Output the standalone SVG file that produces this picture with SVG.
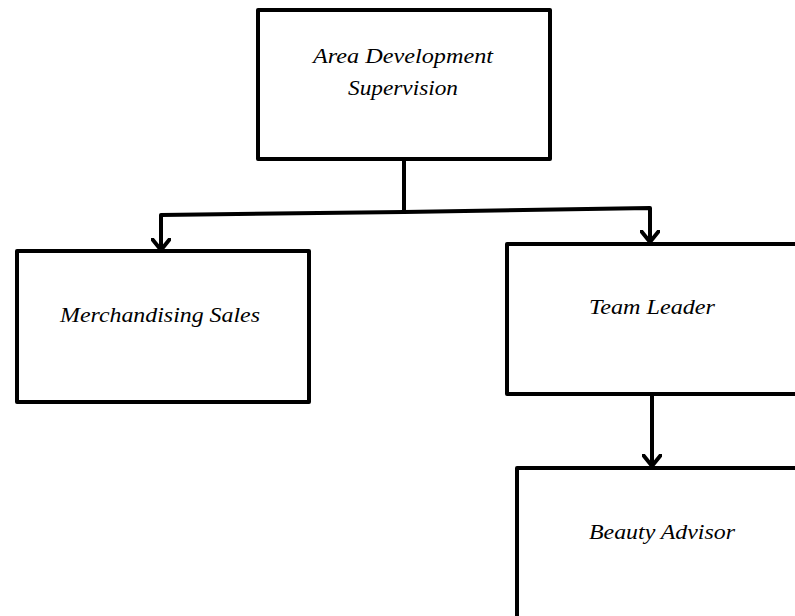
<svg xmlns="http://www.w3.org/2000/svg" width="795" height="616" viewBox="0 0 795 616">
<style>
.box{fill:#fff;stroke:#000;stroke-width:4;stroke-linejoin:round}
.lbl{font-family:"Liberation Serif","DejaVu Serif",serif;font-style:italic;font-size:22px;fill:#000;text-anchor:middle}
.conn{fill:none;stroke:#000;stroke-width:4;stroke-linejoin:round;stroke-linecap:round}
</style>
<defs>
<marker id="arr" viewBox="0 0 14 20" refX="12" refY="10" markerWidth="14" markerHeight="20" markerUnits="userSpaceOnUse" orient="auto">
<path d="M1.5,1.5 L12,10 L1.5,18.5" fill="none" stroke="#000" stroke-width="4" stroke-linecap="round" stroke-linejoin="round"/>
</marker>
</defs>
<rect width="795" height="616" fill="#fff"/>
<g id="connectors">
<path class="conn" d="M404,160 L404,212"/>
<path class="conn" d="M404,212 L161,215 L161,250" marker-end="url(#arr)"/>
<path class="conn" d="M404,212 L650,208 L650,242" marker-end="url(#arr)"/>
<path class="conn" d="M652,395 L652,466" marker-end="url(#arr)"/>
</g>
<g id="area-development-supervision">
<rect class="box" x="258" y="10" width="292" height="149"/>
<text class="lbl" x="403" y="63" textLength="180" lengthAdjust="spacingAndGlyphs">Area Development</text>
<text class="lbl" x="403" y="95" textLength="110" lengthAdjust="spacingAndGlyphs">Supervision</text>
</g>
<g id="merchandising-sales">
<rect class="box" x="17" y="251" width="292" height="151"/>
<text class="lbl" x="160" y="322" textLength="200" lengthAdjust="spacingAndGlyphs">Merchandising Sales</text>
</g>
<g id="team-leader">
<rect class="box" x="507" y="244" width="320" height="150"/>
<text class="lbl" x="652" y="314" textLength="126" lengthAdjust="spacingAndGlyphs">Team Leader</text>
</g>
<g id="beauty-advisor">
<rect class="box" x="517" y="468" width="320" height="180"/>
<text class="lbl" x="662" y="539" textLength="146" lengthAdjust="spacingAndGlyphs">Beauty Advisor</text>
</g>
</svg>
